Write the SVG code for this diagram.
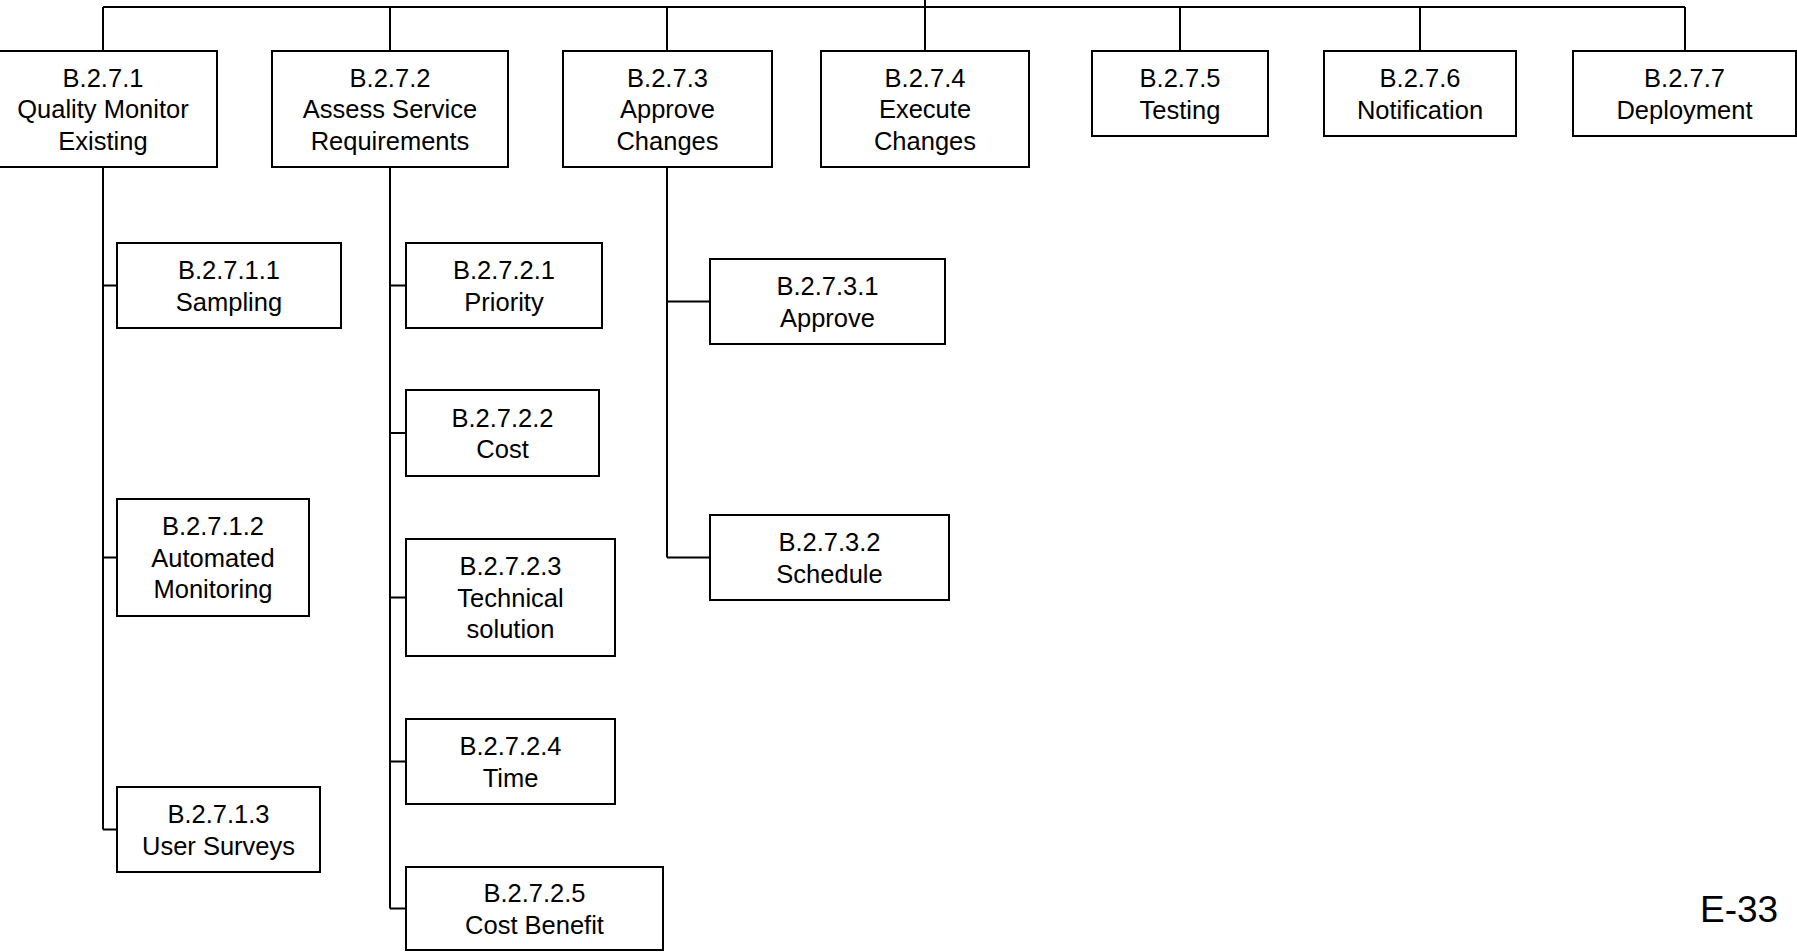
<svg xmlns="http://www.w3.org/2000/svg" width="1797" height="952" viewBox="0 0 1797 952">
<style>
rect{fill:#fff;stroke:#000;stroke-width:2}
text{font-family:"Liberation Sans",Arial,sans-serif;font-size:25.5px;fill:#000;text-anchor:middle}
.c{fill:none;stroke:#000;stroke-width:2}
.pg{font-size:37px;text-anchor:start}
</style>
<rect x="0" y="0" width="1797" height="952" style="stroke:none"/>
<g id="connectors">
<path class="c" d="M925,0V7M103,7H1685M103,7V51M390,7V51M667,7V51M925,7V51M1180,7V51M1420,7V51M1685,7V51"/>
<path class="c" d="M103,167V829.5M103,285.5H117M103,557.5H117M103,829.5H117"/>
<path class="c" d="M390,167V908.5M390,285.5H406M390,433H406M390,597.5H406M390,761.5H406M390,908.5H406"/>
<path class="c" d="M667,167V557.5M667,301.5H710M667,557.5H710"/>
</g>
<g id="n1"><rect x="-11" y="51" width="228" height="116"/><text x="103" y="86.5">B.2.7.1<tspan x="103" y="118">Quality Monitor</tspan><tspan x="103" y="149.5">Existing</tspan></text></g>
<g id="n2"><rect x="272" y="51" width="236" height="116"/><text x="390" y="86.5">B.2.7.2<tspan x="390" y="118">Assess Service</tspan><tspan x="390" y="149.5">Requirements</tspan></text></g>
<g id="n3"><rect x="563" y="51" width="209" height="116"/><text x="667.5" y="86.5">B.2.7.3<tspan x="667.5" y="118">Approve</tspan><tspan x="667.5" y="149.5">Changes</tspan></text></g>
<g id="n4"><rect x="821" y="51" width="208" height="116"/><text x="925" y="86.5">B.2.7.4<tspan x="925" y="118">Execute</tspan><tspan x="925" y="149.5">Changes</tspan></text></g>
<g id="n5"><rect x="1092" y="51" width="176" height="85"/><text x="1180" y="87">B.2.7.5<tspan x="1180" y="118.5">Testing</tspan></text></g>
<g id="n6"><rect x="1324" y="51" width="192" height="85"/><text x="1420" y="87">B.2.7.6<tspan x="1420" y="118.5">Notification</tspan></text></g>
<g id="n7"><rect x="1573" y="51" width="223" height="85"/><text x="1684.5" y="87">B.2.7.7<tspan x="1684.5" y="118.5">Deployment</tspan></text></g>
<g id="n11"><rect x="117" y="243" width="224" height="85"/><text x="229" y="279">B.2.7.1.1<tspan x="229" y="310.5">Sampling</tspan></text></g>
<g id="n12"><rect x="117" y="499" width="192" height="117"/><text x="213" y="535">B.2.7.1.2<tspan x="213" y="566.5">Automated</tspan><tspan x="213" y="598">Monitoring</tspan></text></g>
<g id="n13"><rect x="117" y="787" width="203" height="85"/><text x="218.5" y="823">B.2.7.1.3<tspan x="218.5" y="854.5">User Surveys</tspan></text></g>
<g id="n21"><rect x="406" y="243" width="196" height="85"/><text x="504" y="279">B.2.7.2.1<tspan x="504" y="310.5">Priority</tspan></text></g>
<g id="n22"><rect x="406" y="390" width="193" height="86"/><text x="502.5" y="426.5">B.2.7.2.2<tspan x="502.5" y="458">Cost</tspan></text></g>
<g id="n23"><rect x="406" y="539" width="209" height="117"/><text x="510.5" y="575">B.2.7.2.3<tspan x="510.5" y="606.5">Technical</tspan><tspan x="510.5" y="638">solution</tspan></text></g>
<g id="n24"><rect x="406" y="719" width="209" height="85"/><text x="510.5" y="755">B.2.7.2.4<tspan x="510.5" y="786.5">Time</tspan></text></g>
<g id="n25"><rect x="406" y="867" width="257" height="83"/><text x="534.5" y="902">B.2.7.2.5<tspan x="534.5" y="933.5">Cost Benefit</tspan></text></g>
<g id="n31"><rect x="710" y="259" width="235" height="85"/><text x="827.5" y="295">B.2.7.3.1<tspan x="827.5" y="326.5">Approve</tspan></text></g>
<g id="n32"><rect x="710" y="515" width="239" height="85"/><text x="829.5" y="551">B.2.7.3.2<tspan x="829.5" y="582.5">Schedule</tspan></text></g>
<text class="pg" x="1700" y="922">E-33</text>
</svg>
